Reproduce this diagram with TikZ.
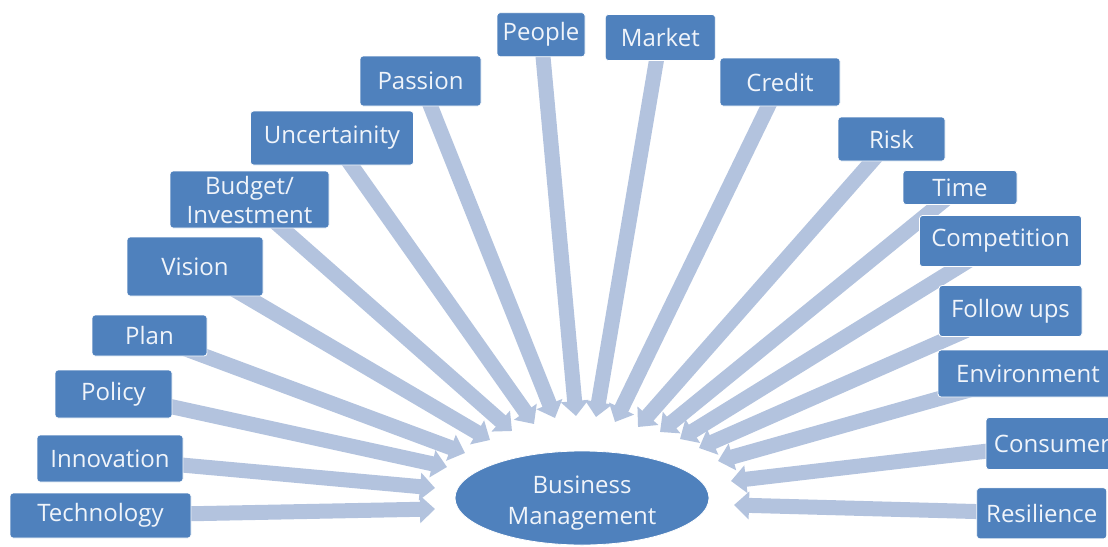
\documentclass[tikz,border=0pt]{standalone}
\usepackage{fontspec}
\setmainfont{Open Sans}
\usetikzlibrary{arrows.meta,shapes.geometric}
\definecolor{boxc}{HTML}{4F81BD}
\definecolor{arrc}{HTML}{B3C3DE}
\definecolor{txtc}{HTML}{F0F4FA}
\pgfdeclarelayer{bg}
\pgfsetlayers{bg,main}
\tikzset{
  box/.style={draw=white, line width=0.8pt, fill=boxc, rounded corners=3pt,
    text=txtc, font=\fontsize{24}{27}\selectfont, inner sep=0pt, align=center},
  arr/.style={draw=arrc, line width=15pt,
    -{Triangle[length=15pt,width=27pt,fill=arrc]}, shorten <=0pt}
}
\begin{document}
\begin{tikzpicture}[x=1pt,y=-1pt]
\useasboundingbox (0,0) rectangle (1108,546);
% central ellipse
\node[ellipse, fill=boxc, draw=white, line width=0.8pt, minimum width=254pt, minimum height=94pt] (bm) at (582,498) {};
\node[text=txtc, font=\fontsize{24}{31}\selectfont, align=center, inner sep=0pt] (bmtext) at (582,503) {Business\\Management};
% left boxes
\node[box, minimum width=181pt, minimum height=45pt] (tech) at (100.5,515.5) {Technology};
\node[box, minimum width=146pt, minimum height=47pt] (innov) at (110,458.5) {Innovation};
\node[box, minimum width=117pt, minimum height=48pt] (policy) at (113.5,394) {Policy};
\node[box, minimum width=115pt, minimum height=41pt] (plan) at (149.5,335.5) {Plan};
\node[box, minimum width=136pt, minimum height=59pt] (vision) at (195,266.5) {Vision};
\node[box, minimum width=159pt, minimum height=57pt, font=\fontsize{24}{29}\selectfont] (budget) at (249.5,199.5) {Budget/\\Investment};
\node[box, minimum width=163pt, minimum height=54pt] (uncert) at (332,138) {Uncertainity};
\node[box, minimum width=121pt, minimum height=50pt] (passion) at (420.5,81) {Passion};
\node[box, minimum width=88pt, minimum height=44pt] (people) at (541,34.7) {People};
% right boxes
\node[box, minimum width=110pt, minimum height=46pt] (market) at (660.3,37.5) {Market};
\node[box, minimum width=120pt, minimum height=48pt] (credit) at (780,82) {Credit};
\node[box, minimum width=107pt, minimum height=44pt] (risk) at (891.5,139) {Risk};
\node[box, minimum width=114pt, minimum height=34pt] (time) at (960,187.5) {Time};
\node[box, minimum width=162pt, minimum height=51pt] (compet) at (1000.5,241) {Competition};
\node[box, minimum width=143pt, minimum height=51pt] (follow) at (1010.5,311) {Follow ups};
\node[box, minimum width=180pt, minimum height=47pt] (environ) at (1028,373.5) {Environment};
\node[box, minimum width=132pt, minimum height=52pt] (consum) at (1052,443.5) {Consumer};
\node[box, minimum width=130pt, minimum height=51pt] (resil) at (1041.7,513.3) {Resilience};
% arrow tips
\coordinate (tTech) at (435,509);
\coordinate (tInnov) at (435,488);
\coordinate (tPolicy) at (447,467);
\coordinate (tPlan) at (465,453);
\coordinate (tVision) at (490,440);
\coordinate (tBudget) at (512,431);
\coordinate (tUncert) at (534,424);
\coordinate (tPassion) at (555,418);
\coordinate (tPeople) at (576,416);
\coordinate (tMarket) at (596,417);
\coordinate (tCredit) at (615,422);
\coordinate (tRisk) at (638,427);
\coordinate (tTime) at (660,432);
\coordinate (tCompet) at (680,439);
\coordinate (tFollow) at (699,448);
\coordinate (tEnviron) at (718,461);
\coordinate (tConsum) at (731,481);
\coordinate (tResil) at (734,505);
\begin{pgfonlayer}{bg}
\foreach \n/\t in {tech/tTech,innov/tInnov,policy/tPolicy,plan/tPlan,vision/tVision,
  budget/tBudget,uncert/tUncert,passion/tPassion,people/tPeople,market/tMarket,
  credit/tCredit,risk/tRisk,time/tTime,compet/tCompet,follow/tFollow,
  environ/tEnviron,consum/tConsum,resil/tResil}
  \draw[arr] (\n.center) -- (\t);
\end{pgfonlayer}
\end{tikzpicture}
\end{document}
